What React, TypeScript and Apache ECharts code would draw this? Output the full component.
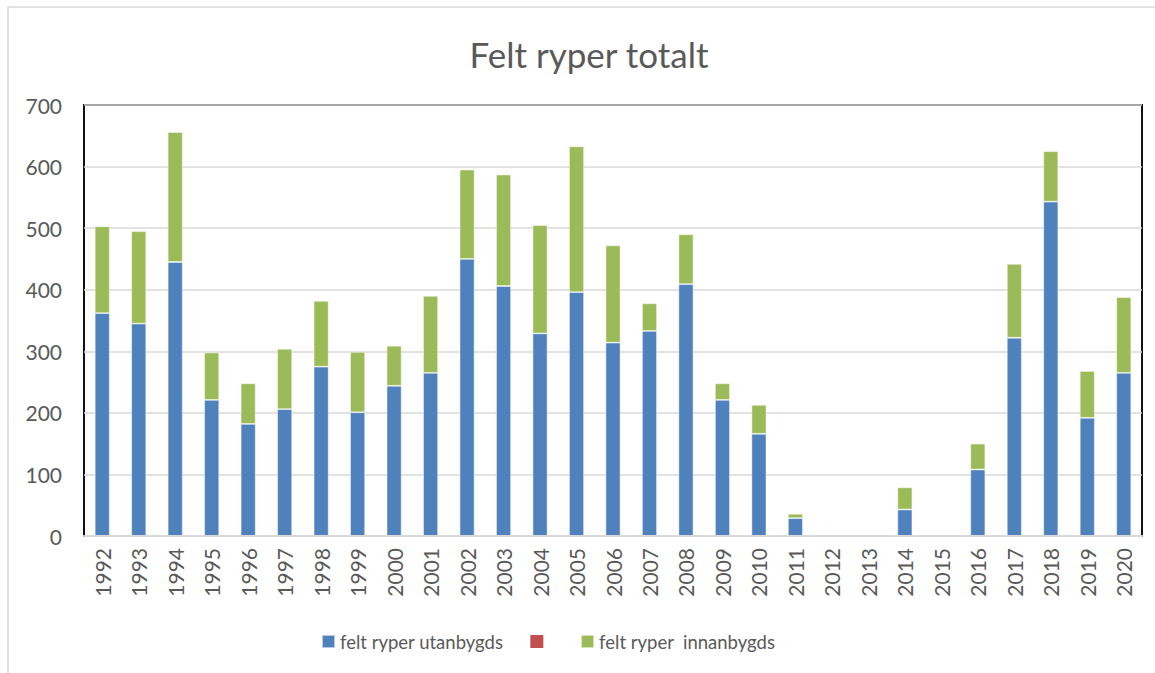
import React, { useEffect, useRef } from "react";
import * as echarts from "echarts";

const years = ["1992","1993","1994","1995","1996","1997","1998","1999","2000","2001","2002","2003","2004","2005","2006","2007","2008","2009","2010","2011","2012","2013","2014","2015","2016","2017","2018","2019","2020"];
const utanbygds = [362, 345, 445, 221, 182, 206, 275, 201, 244, 265, 450, 406, 329, 396, 314, 333, 409, 221, 166, 29, 0, 0, 43, 0, 108, 322, 543, 192, 265];
const innanbygds = [141, 150, 211, 77, 66, 98, 107, 98, 65, 125, 145, 181, 176, 237, 158, 45, 81, 27, 47, 7, 0, 0, 36, 0, 42, 120, 82, 76, 123];
const blank = years.map(() => null as number | null);

const title = "Felt ryper totalt";
const nameUtan = "felt ryper utanbygds";
const nameBlank = " ";
const nameInnan = "felt ryper  innanbygds";

if (typeof document !== "undefined") {
  document.body.style.margin = "0";
  document.body.style.overflow = "hidden";
}

export default function App() {
  const ref = useRef<HTMLDivElement>(null);
  useEffect(() => {
    if (!ref.current) return;
    const chart = echarts.init(ref.current, null, { renderer: "svg" });
    const font = "Lato";
    chart.setOption({
      animation: false,
      backgroundColor: "#ffffff",
      textStyle: { fontFamily: font },
      title: {
        text: title,
        left: 584,
        top: 31,
        textAlign: "center",
        textStyle: { fontFamily: font, fontSize: 35, fontWeight: "normal", color: "#595959" },
      },
      graphic: [
        {
          type: "rect",
          shape: { x: 8, y: 7, width: 1300, height: 800 },
          style: { fill: "none", stroke: "#d9d9d9", lineWidth: 1.5 },
          silent: true,
        },
      ],
      legend: {
        left: 316,
        top: 627,
        itemWidth: 13,
        itemHeight: 13,
        itemGap: 27,
        icon: "rect",
        data: [nameUtan, nameBlank, nameInnan],
        textStyle: { fontFamily: font, fontSize: 18.5, color: "#595959" },
      },
      grid: {
        left: 84,
        top: 105,
        right: 13,
        bottom: 137,
        show: true,
        borderColor: "#111",
        borderWidth: 2,
        backgroundColor: "transparent",
      },
      xAxis: {
        type: "category",
        data: years,
        axisLine: { show: true, lineStyle: { color: "#d9d9d9", width: 2 } },
        axisTick: { show: false },
        axisLabel: { rotate: 90, margin: 12, fontSize: 21, color: "#595959", fontFamily: font, interval: 0 },
        z: 10,
      },
      yAxis: {
        type: "value",
        min: 0,
        max: 700,
        interval: 100,
        axisLine: { show: false },
        axisTick: { show: false },
        axisLabel: { margin: 22, fontSize: 21, color: "#595959", fontFamily: font },
        splitLine: { lineStyle: { color: "#d9d9d9", width: 1.5 } },
      },
      series: [
        {
          name: nameUtan,
          type: "bar",
          stack: "total",
          data: utanbygds,
          barWidth: 15,
          itemStyle: { color: "#4F81BD", borderColor: "rgba(255,255,255,0.6)", borderWidth: 0.8 },
        },
        {
          name: nameBlank,
          type: "bar",
          stack: "total",
          data: blank,
          barWidth: 15,
          itemStyle: { color: "#C0504D" },
        },
        {
          name: nameInnan,
          type: "bar",
          stack: "total",
          data: innanbygds,
          barWidth: 15,
          itemStyle: { color: "#9BBB59", borderColor: "rgba(255,255,255,0.6)", borderWidth: 0.8 },
        },
      ],
    });
    return () => chart.dispose();
  }, []);
  return <div ref={ref} style={{ width: 1155, height: 673 }} />;
}
